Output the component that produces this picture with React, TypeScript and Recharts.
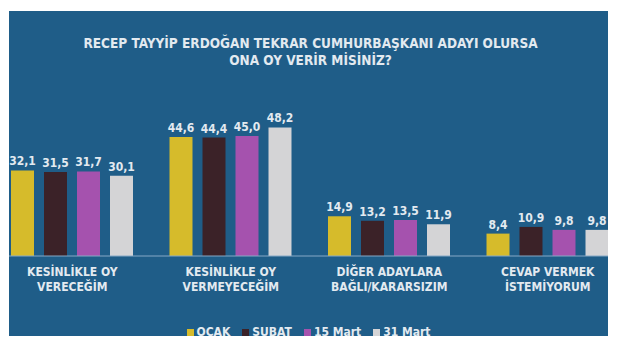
import { BarChart, Bar, XAxis, YAxis, Legend, LabelList } from "recharts";

const categories = [
  "KESİNLİKLE OY|VERECEĞİM",
  "KESİNLİKLE OY|VERMEYECEĞİM",
  "DİĞER ADAYLARA|BAĞLI/KARARSIZIM",
  "CEVAP VERMEK|İSTEMİYORUM",
];
const ocak = [32.1, 44.6, 14.9, 8.4];
const subat = [31.5, 44.4, 13.2, 10.9];
const mart15 = [31.7, 45.0, 13.5, 9.8];
const mart31 = [30.1, 48.2, 11.9, 9.8];

const seriesNames = ["OCAK", "ŞUBAT", "15 Mart", "31 Mart"];
const colors = ["#d6bb2b", "#3b2228", "#a552ae", "#d4d4d6"];

const data = categories.map((name, i) => ({
  name,
  OCAK: ocak[i],
  "ŞUBAT": subat[i],
  "15 Mart": mart15[i],
  "31 Mart": mart31[i],
}));

const FONT = "'DejaVu Sans Condensed', 'DejaVu Sans', sans-serif";
const TEXT = "#e3eaf0";
const BG = "#1f5d88";

const fmt = (v: any) => Number(v).toFixed(1).replace(".", ",");

const CategoryTick = ({ x, y, payload }: any) => {
  const lines = String(payload.value).split("|");
  return (
    <text
      x={x}
      y={y}
      textAnchor="middle"
      fill={TEXT}
      fontFamily={FONT}
      fontWeight="bold"
      fontSize={12}
    >
      {lines.map((l, i) => (
        <tspan key={i} x={x} dy={i === 0 ? 12 : 15}>
          {l}
        </tspan>
      ))}
    </text>
  );
};

// keep the legend in series order
const LegendContent = () => (
  <div
    style={{
      display: "flex",
      justifyContent: "center",
      alignItems: "center",
      height: 16,
      fontFamily: FONT,
      fontWeight: "bold",
      fontSize: 12,
      color: TEXT,
    }}
  >
    {seriesNames.map((s, i) => (
      <span key={s} style={{ display: "flex", alignItems: "center", marginRight: i < 3 ? 12 : 0 }}>
        <span style={{ width: 7, height: 7, background: colors[i], marginRight: 3 }} />
        {s}
      </span>
    ))}
  </div>
);

export default function App() {
  return (
    <div style={{ position: "relative", left: 1, top: 3, width: 599, height: 328 }}>
      <div
        style={{
          position: "absolute",
          left: 0,
          top: 0,
          width: 599,
          height: 328,
          background: BG,
          overflow: "hidden",
        }}
      >
        <div
          style={{
            position: "absolute",
            left: 0,
            top: 24,
            width: 603,
            textAlign: "center",
            color: TEXT,
            fontFamily: FONT,
            fontWeight: "bold",
            fontSize: 13.5,
            lineHeight: "17px",
          }}
        >
          RECEP TAYYİP ERDOĞAN TEKRAR CUMHURBAŞKANI ADAYI OLURSA
          <br />
          ONA OY VERİR MİSİNİZ?
        </div>
        <div style={{ position: "absolute", left: -16, top: 0 }}>
          <BarChart
            width={634}
            height={328}
            data={data}
            margin={{ top: 85, right: 0, bottom: 7, left: 0 }}
            barCategoryGap={18}
            barGap={10}
          >
            <XAxis
              dataKey="name"
              interval={0}
              tickLine={false}
              axisLine={{ stroke: "#86a9c6", strokeWidth: 1 }}
              tick={<CategoryTick />}
              height={60}
            />
            <YAxis hide domain={[0, 60]} />
            <Legend
              content={<LegendContent />}
              wrapperStyle={{ left: 16, width: 599, top: 313, bottom: "auto" }}
            />
            {seriesNames.map((s, i) => (
              <Bar
                key={s}
                dataKey={s}
                fill={colors[i]}
                barSize={23}
                isAnimationActive={false}
              >
                <LabelList
                  dataKey={s}
                  position="top"
                  formatter={fmt}
                  fill={TEXT}
                  fontFamily={FONT}
                  fontWeight="bold"
                  fontSize={12}
                />
              </Bar>
            ))}
          </BarChart>
        </div>
      </div>
    </div>
  );
}
